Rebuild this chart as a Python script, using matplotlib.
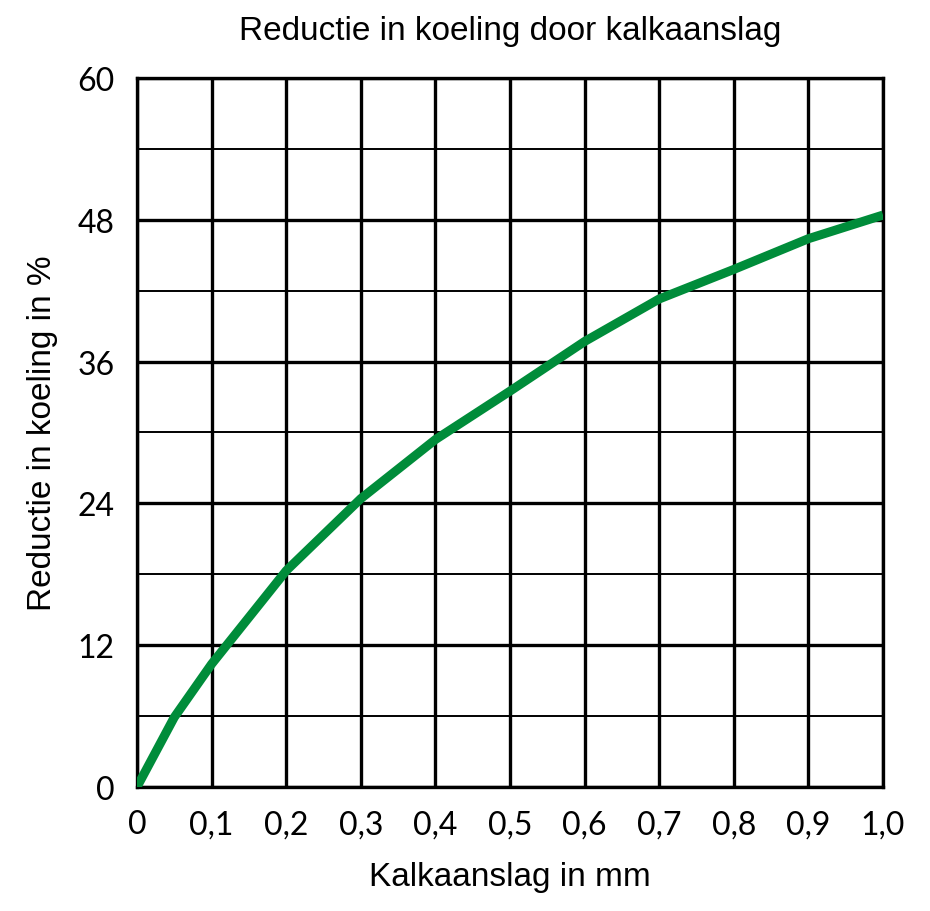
import numpy as np
import matplotlib
matplotlib.use("Agg")
import matplotlib.pyplot as plt

# kalkaanslag (mm) vs reductie in koeling (%)
kalk_mm = [0.0, 0.05, 0.1, 0.2, 0.3, 0.4, 0.5, 0.6, 0.7, 0.8, 0.9, 1.0]
reductie = [0.0, 5.9, 10.4, 18.3, 24.4, 29.4, 33.5, 37.7, 41.3, 43.8, 46.4, 48.4]

x_ticks = [0.0, 0.1, 0.2, 0.3, 0.4, 0.5, 0.6, 0.7, 0.8, 0.9, 1.0]
x_labels = ["0", "0,1", "0,2", "0,3", "0,4", "0,5", "0,6", "0,7", "0,8", "0,9", "1,0"]
y_ticks = [0, 12, 24, 36, 48, 60]

fig = plt.figure(figsize=(9.3, 9.12), dpi=100)
ax = fig.add_axes([0.1473, 0.136, 0.8022, 0.7774])

ax.set_xlim(0, 1)
ax.set_ylim(0, 60)

# raster
for xv in x_ticks:
    ax.axvline(xv, color="black", lw=2.4, zorder=1)
for yv in y_ticks:
    ax.axhline(yv, color="black", lw=2.4, zorder=1)
for yv in [6, 18, 30, 42, 54]:
    ax.axhline(yv, color="black", lw=1.4, zorder=1)

ax.plot(kalk_mm, reductie, color="#008C3A", lw=6.5, solid_capstyle="butt", zorder=3)

for s in ax.spines.values():
    s.set_linewidth(2.4)

ax.set_xticks(x_ticks)
ax.set_xticklabels(x_labels)
ax.set_yticks(y_ticks)
ax.tick_params(length=0, labelsize=23)
ax.tick_params(axis="x", pad=16)
ax.tick_params(axis="y", pad=16)
for lab in ax.get_xticklabels() + ax.get_yticklabels():
    lab.set_family("Lato")

ax.set_title("Reductie in koeling door kalkaanslag", fontsize=24,
             family="Liberation Sans", pad=28)
ax.set_xlabel("Kalkaanslag in mm", fontsize=24, family="Liberation Sans", labelpad=16)
ax.set_ylabel("Reductie in koeling in %", fontsize=24, family="Liberation Sans", labelpad=14)

plt.savefig("out.png", dpi=100)
